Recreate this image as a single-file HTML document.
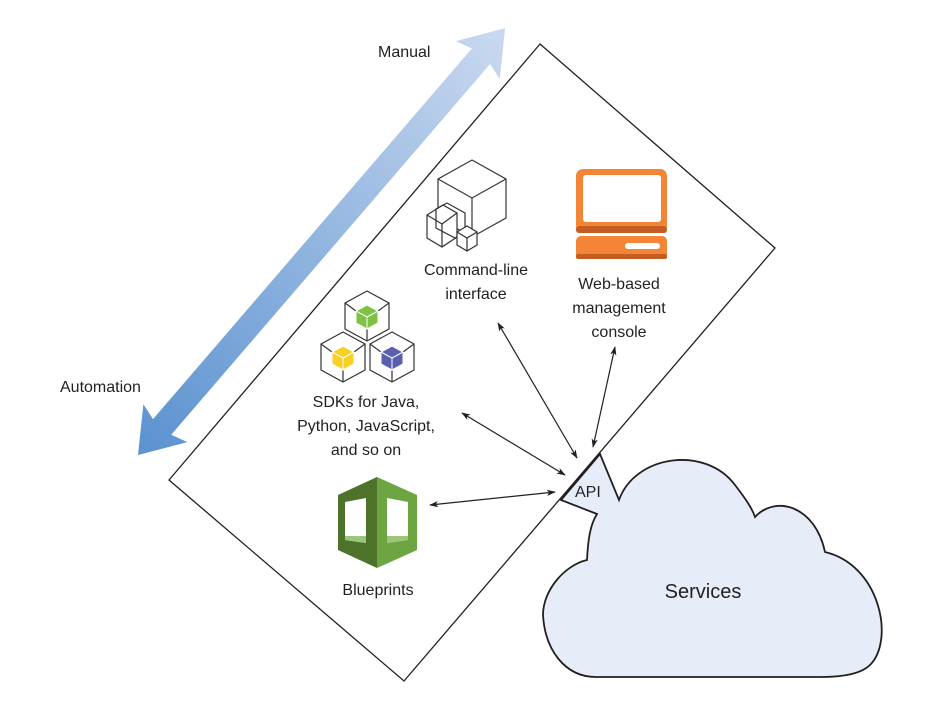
<!DOCTYPE html>
<html><head><meta charset="utf-8"><style>
html,body{margin:0;padding:0;background:#fff;}
svg{display:block;}
text{font-family:"Liberation Sans",Arial,sans-serif;fill:#231f20;}
</style></head><body>
<svg width="942" height="704" viewBox="0 0 942 704" xmlns="http://www.w3.org/2000/svg" font-family="Liberation Sans, Arial, sans-serif">
<defs>
<linearGradient id="g" x1="0" y1="0" x2="1" y2="0">
<stop offset="0" stop-color="#5b92d0"/><stop offset="1" stop-color="#cad9f0"/>
</linearGradient>
<marker id="ah" viewBox="0 0 10 10" refX="9" refY="5" markerWidth="9" markerHeight="9" orient="auto-start-reverse" markerUnits="userSpaceOnUse">
<path d="M0,1.5 L10,5 L0,8.5 L2.5,5 Z" fill="#231f20"/>
</marker>
</defs>

<g transform="translate(138,455) rotate(-49.3)">
<path d="M0,0 L42,-29 L37,-12 L526,-12 L521,-29 L563,0 L521,29 L526,12 L37,12 L42,29 Z" fill="url(#g)"/>
</g>
<text x="378" y="57" font-size="16">Manual</text>
<text x="60" y="392" font-size="16">Automation</text>

<polygon points="540,44 775,248 404,681 169,480" fill="none" stroke="#231f20" stroke-width="1.3"/>

<path d="M600,454 L619,500 C635,455 705,445 735,485 C745,498 752,508 755,517 C775,495 815,505 825,552 C880,565 895,640 870,665 C860,675 840,677 821,677 L596,677 C565,677 545,650 543,615 C543,590 565,565 587,560 C588,540 590,525 597,514 L561,500 Z" fill="#e6edf8" stroke="#231f20" stroke-width="1.8"/>
<text x="575" y="497" font-size="16">API</text>
<text x="703" y="598" font-size="20" text-anchor="middle">Services</text>

<g fill="#fff" stroke="#333" stroke-width="1.2">
<polygon points="472,160 506,179 506,218 472,237 438,218 438,179"/>
<polyline points="438,179 472,198 506,179" fill="none"/>
<line x1="472" y1="198" x2="472" y2="237"/>
<polygon points="427,215 443,205 457,213 457,237 442,247 427,238"/>
<polyline points="427,215 442,224 457,213" fill="none"/>
<line x1="442" y1="224" x2="442" y2="247"/>
<polygon points="436,209 447,203 465,213 465,232 455,238 436,228" fill="none"/>
<polygon points="457,232 467,226 477,232 477,245 467,251 457,245"/>
<polyline points="457,232 467,238 477,232" fill="none"/>
<line x1="467" y1="238" x2="467" y2="251"/>
</g>
<text x="476" y="275" font-size="16" text-anchor="middle">Command-line</text>
<text x="476" y="299" font-size="16" text-anchor="middle">interface</text>

<rect x="576" y="169" width="91" height="64" rx="7" fill="#f58536"/>
<rect x="576" y="226" width="91" height="7" rx="3" fill="#c45d22"/>
<rect x="583" y="175" width="78" height="47" rx="3" fill="#fff"/>
<rect x="576" y="236" width="91" height="23" rx="5" fill="#f58536"/>
<rect x="576" y="254" width="91" height="5" rx="2" fill="#c45d22"/>
<rect x="625" y="243" width="35" height="6" rx="3" fill="#fff"/>
<text x="619" y="289" font-size="16" text-anchor="middle">Web-based</text>
<text x="619" y="313" font-size="16" text-anchor="middle">management</text>
<text x="619" y="337" font-size="16" text-anchor="middle">console</text>

<g stroke="#333" stroke-width="1.2">
<polygon points="367,291 389,303 389,329 367,341 345,329 345,303" fill="#fff"/>
<polygon points="343,332 365,344 365,370 343,382 321,370 321,344" fill="#fff"/>
<polygon points="392,332 414,344 414,370 392,382 370,370 370,344" fill="#fff"/>
<path d="M345,303 L356,311 M389,303 L378,311 M367,341 L367,329 M321,344 L332,352 M365,344 L354,352 M343,382 L343,370 M370,344 L381,352 M414,344 L403,352 M392,382 L392,370" fill="none"/>
</g>
<g stroke="#fff" stroke-width="1">
<polygon points="367,305 378,311 378,323 367,329 356,323 356,311" fill="#7dc242"/>
<polyline points="356,311 367,317 378,311" fill="none"/><line x1="367" y1="317" x2="367" y2="329"/>
<polygon points="343,346 354,352 354,364 343,370 332,364 332,352" fill="#f8cf24"/>
<polyline points="332,352 343,358 354,352" fill="none"/><line x1="343" y1="358" x2="343" y2="370"/>
<polygon points="392,346 403,352 403,364 392,370 381,364 381,352" fill="#5a5fae"/>
<polyline points="381,352 392,358 403,352" fill="none"/><line x1="392" y1="358" x2="392" y2="370"/>
</g>
<text x="366" y="407" font-size="16" text-anchor="middle">SDKs for Java,</text>
<text x="366" y="431" font-size="16" text-anchor="middle">Python, JavaScript,</text>
<text x="366" y="455" font-size="16" text-anchor="middle">and so on</text>

<polygon points="377,477 338,495 338,550 377,568" fill="#4d7229"/>
<polygon points="377,477 417,495 417,550 377,568" fill="#6ca542"/>
<polygon points="345,502 366,498 366,543 345,540" fill="#fff"/>
<polygon points="387,498 408,502 408,540 387,543" fill="#fff"/>
<polygon points="345,536 366,536 366,543 345,540" fill="#9bc77a"/>
<polygon points="387,536 408,536 408,540 387,543" fill="#9bc77a"/>
<text x="378" y="595" font-size="16" text-anchor="middle">Blueprints</text>

<g stroke="#231f20" stroke-width="1.2" marker-start="url(#ah)" marker-end="url(#ah)">
<line x1="498" y1="323" x2="577" y2="458"/>
<line x1="615" y1="347" x2="593" y2="447"/>
<line x1="462" y1="413" x2="565" y2="475"/>
<line x1="430" y1="505" x2="555" y2="492"/>
</g>
</svg>
</body></html>
